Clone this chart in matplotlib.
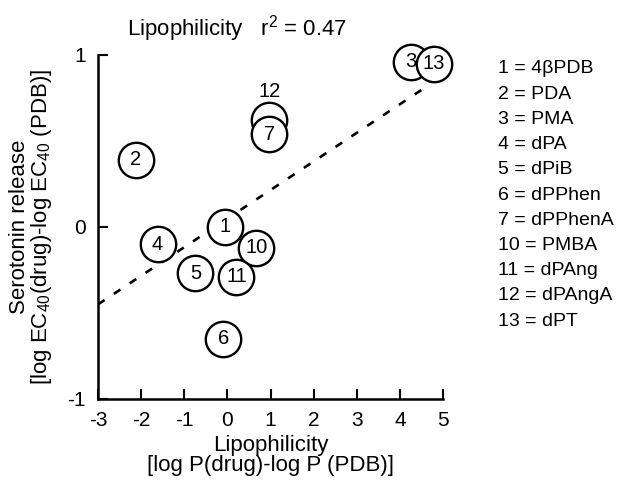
import numpy as np
import matplotlib
matplotlib.use("Agg")
import matplotlib.pyplot as plt

plt.rcParams['font.family'] = ['Liberation Sans', 'DejaVu Sans']
plt.rcParams['mathtext.fontset'] = 'custom'
plt.rcParams['mathtext.rm'] = 'Liberation Sans'
plt.rcParams['mathtext.it'] = 'Liberation Sans'
plt.rcParams['axes.unicode_minus'] = False

# drug numbers, lipophilicity and serotonin release
drug_ids = [12, 1, 2, 3, 4, 5, 6, 7, 10, 11, 13]
lipo = [0.97, -0.05, -2.13, 4.25, -1.62, -0.74, -0.09, 0.97, 0.67, 0.21, 4.78]
release = [0.62, 0.0, 0.39, 0.96, -0.10, -0.27, -0.65, 0.54, -0.12, -0.29, 0.95]

# regression line ends
fit_x = [-3.0, 4.7]
fit_y = [-0.45, 0.83]

legend_lines = ["1 = 4βPDB", "2 = PDA", "3 = PMA", "4 = dPA", "5 = dPiB",
                "6 = dPPhen", "7 = dPPhenA", "10 = PMBA", "11 = dPAng",
                "12 = dPAngA", "13 = dPT"]

xticks = [-3, -2, -1, 0, 1, 2, 3, 4, 5]
yticks = [-1, 0, 1]

fig = plt.figure(figsize=(6.18, 4.82), dpi=100)
ax = fig.add_axes([98/618, 1-399/482, 345/618, 344/482])

ax.plot(fit_x, fit_y, color='black', lw=1.9, dashes=(3, 4.2), zorder=2)

for i in range(len(drug_ids)):
    ax.plot(lipo[i], release[i], 'o', ms=25.5, mfc='white', mec='black',
            mew=1.7, clip_on=False, zorder=3 + i)
    if drug_ids[i] == 12:
        ax.annotate(str(drug_ids[i]), (lipo[i], release[i]), xytext=(0, 21),
                    textcoords='offset points', ha='center', va='center',
                    fontsize=14.5, zorder=3 + i)
    else:
        ax.text(lipo[i], release[i], str(drug_ids[i]), ha='center', va='center',
                fontsize=14.5, zorder=3 + i)

ax.set_xlim(-3, 5)
ax.set_ylim(-1, 1)
ax.set_xticks(xticks)
ax.set_yticks(yticks)
ax.set_xticklabels([str(t) for t in xticks])
ax.set_yticklabels([str(t) for t in yticks])
ax.tick_params(direction='in', length=7, width=1.5, labelsize=15, pad=9)
for s in ['top', 'right']:
    ax.spines[s].set_visible(False)
for s in ['left', 'bottom']:
    ax.spines[s].set_linewidth(1.8)

ax.set_xlabel("Lipophilicity\n[log P(drug)-log P (PDB)]", fontsize=16,
              linespacing=0.95, labelpad=3)
ax.set_ylabel("Serotonin release\n[log EC$_{40}$(drug)-log EC$_{40}$ (PDB)]",
              fontsize=16, linespacing=0.95, labelpad=9)

fig.text(127/618, 1-36/482, "Lipophilicity   r$^2$ = 0.47", fontsize=16,
         ha='left', va='baseline')

for j, line in enumerate(legend_lines):
    fig.text(498/618, 1-(69 + 25.2*j)/482, line, fontsize=14, ha='left',
             va='center')

fig.savefig("out.png", dpi=100)
